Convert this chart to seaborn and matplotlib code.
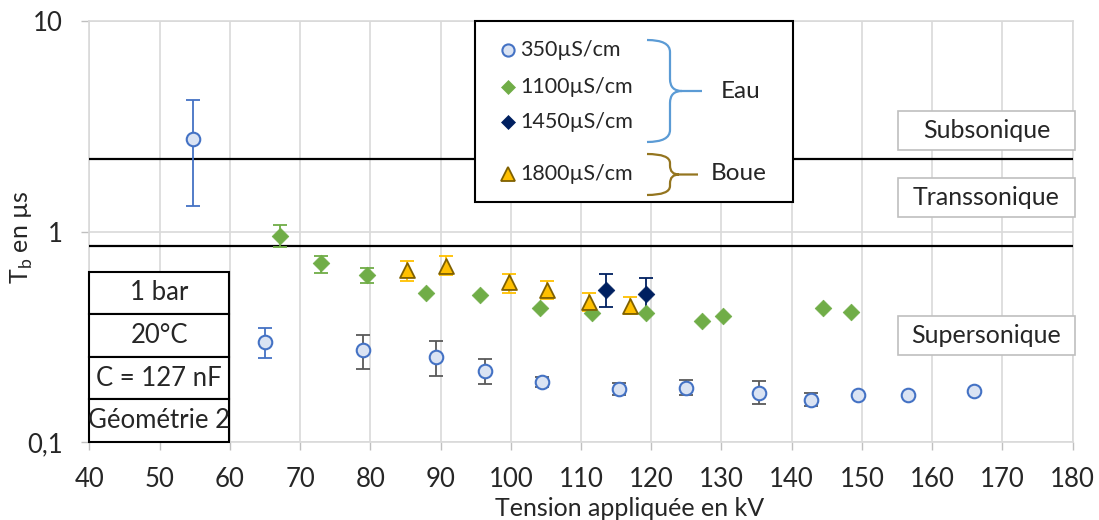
import numpy as np
import pandas as pd
import seaborn as sns
import matplotlib.pyplot as plt
import matplotlib.transforms as mtransforms
from matplotlib.path import Path
from matplotlib.patches import PathPatch, Rectangle
from matplotlib.lines import Line2D
from matplotlib.ticker import MultipleLocator, LogLocator, NullFormatter

# données (kV, Tb en µs)
x_350 = [54.8, 65.0, 78.9, 89.3, 96.3, 104.5, 115.4, 125.0, 135.4, 142.7, 149.5, 156.5, 165.9]
y_350 = [2.75, 0.300, 0.274, 0.254, 0.218, 0.193, 0.178, 0.181, 0.170, 0.158, 0.168, 0.168, 0.174]
lo_350 = [1.32, 0.252, 0.223, 0.206, 0.188, 0.182, 0.167, 0.168, 0.151, 0.148, np.nan, np.nan, np.nan]
hi_350 = [4.22, 0.347, 0.321, 0.303, 0.247, 0.204, 0.191, 0.198, 0.195, 0.171, np.nan, np.nan, np.nan]

x_1100 = [67.2, 73.0, 79.5, 87.9, 95.6, 104.2, 111.6, 119.3, 127.2, 130.2, 144.5, 148.5]
y_1100 = [0.95, 0.708, 0.620, 0.508, 0.497, 0.434, 0.410, 0.410, 0.374, 0.396, 0.434, 0.413]
lo_1100 = [0.841, 0.638, 0.567] + [np.nan] * 9
hi_1100 = [1.077, 0.761, 0.674] + [np.nan] * 9

x_1450 = [113.5, 119.2]
y_1450 = [0.525, 0.506]
lo_1450 = [0.437, 0.406]
hi_1450 = [0.631, 0.604]

x_1800 = [85.2, 90.8, 99.8, 105.2, 111.2, 117.0]
y_1800 = [0.657, 0.687, 0.575, 0.525, 0.463, 0.445]
lo_1800 = [0.582, 0.620, 0.512, 0.476, 0.418, 0.406]
hi_1800 = [0.726, 0.761, 0.631, 0.582, 0.512, 0.490]

seuils = [2.22, 0.85]  # limites subsonique / transsonique / supersonique
legend_labels = ['350µS/cm', '1100µS/cm', '1450µS/cm', '1800µS/cm']
conditions = ['1 bar', '20°C', 'C = 127 nF', 'Géométrie 2']

sns.set_theme(style="white")
plt.rcParams['font.family'] = ['Lato', 'DejaVu Sans']
plt.rcParams['mathtext.fontset'] = 'custom'
plt.rcParams['mathtext.rm'] = 'Lato'

W, H = 1099, 520
fig = plt.figure(figsize=(W / 100, H / 100), dpi=100)
ax = fig.add_axes([89.3 / W, 1 - 442 / H, 983.4 / W, 421 / H])
px = mtransforms.Affine2D().scale(1 / W, -1 / H).translate(0, 1) + fig.transFigure

ax.set_yscale('log')
ax.set_xlim(40, 180)
ax.set_ylim(0.1, 10)
ax.xaxis.set_major_locator(MultipleLocator(10))
ax.xaxis.set_minor_locator(MultipleLocator(2))
ax.yaxis.set_minor_locator(LogLocator(subs=np.arange(2, 10)))
ax.yaxis.set_minor_formatter(NullFormatter())
ax.set_yticks([0.1, 1, 10], ['0,1', '1', '10'])
ax.grid(True, which='major', color='#D9D9D9', lw=1.2)
for s in ax.spines.values():
    s.set_color('#D9D9D9')
    s.set_linewidth(1.2)
ax.tick_params(axis='both', which='both', direction='out', color='#BFBFBF', length=6, width=1, labelsize=18.5)
ax.tick_params(axis='x', pad=12)
ax.tick_params(axis='y', pad=13)
ax.tick_params(bottom=True, left=True)

# limites de régime
for s in seuils:
    ax.plot([40, 180], [s, s], color='black', lw=1.6, zorder=3)


def barres(x, y, lo, hi, couleur):
    df = pd.DataFrame({'x': x, 'y': y, 'lo': lo, 'hi': hi}).dropna()
    ax.errorbar(df['x'], df['y'], yerr=[df['y'] - df['lo'], df['hi'] - df['y']], fmt='none',
                ecolor=couleur, elinewidth=1.3, capsize=5, capthick=1.3, zorder=4)


# barres d'erreur (les deux premiers points à 350µS/cm en bleu, le reste en gris)
barres(x_350[:2], y_350[:2], lo_350[:2], hi_350[:2], '#4472C4')
barres(x_350[2:], y_350[2:], lo_350[2:], hi_350[2:], '#595959')
barres(x_1100, y_1100, lo_1100, hi_1100, '#70AD47')
barres(x_1450, y_1450, lo_1450, hi_1450, '#002060')
barres(x_1800, y_1800, lo_1800, hi_1800, '#FFC000')

styles = [
    dict(marker='o', s=95, color='#DAE3F3', edgecolor='#4472C4', linewidth=1.5),
    dict(marker='D', s=72, color='#70AD47', edgecolor='#70AD47', linewidth=0.5),
    dict(marker='D', s=72, color='#002060', edgecolor='#002060', linewidth=0.5),
    dict(marker='^', s=115, color='#FFC000', edgecolor='#7F6000', linewidth=1.3),
]
series = [(x_350, y_350), (x_1100, y_1100), (x_1450, y_1450), (x_1800, y_1800)]
for (xs, ys), st in zip(series, styles):
    sns.scatterplot(x=xs, y=ys, ax=ax, zorder=5, legend=False, **st)

# légende manuelle
fig.add_artist(Rectangle((475, 21), 318, 181, transform=px, facecolor='white', edgecolor='black', lw=1.5))
leg_y = [50, 87, 122, 174]
for lab, yy, st in zip(legend_labels, leg_y, styles):
    size = np.sqrt(st['s']) * 0.9
    fig.add_artist(Line2D([508], [yy], transform=px, marker=st['marker'], markersize=size,
                          markerfacecolor=st['color'], markeredgecolor=st['edgecolor'],
                          markeredgewidth=st['linewidth'], linestyle='none'))
    fig.text(520 / W, 1 - yy / H, lab, fontsize=15.5, va='center', ha='left')


def accolade(x0, xm, xt, y0, y1, r, couleur):
    ym = (y0 + y1) / 2
    verts = [(x0, y0), (xm, y0), (xm, y0 + r), (xm, ym - r), (xm, ym), (xm + r, ym), (xt, ym),
             (xm + r, ym), (xm, ym), (xm, ym + r), (xm, y1 - r), (xm, y1), (x0, y1)]
    codes = [Path.MOVETO, Path.CURVE3, Path.CURVE3, Path.LINETO, Path.CURVE3, Path.CURVE3, Path.LINETO,
             Path.MOVETO, Path.CURVE3, Path.CURVE3, Path.LINETO, Path.CURVE3, Path.CURVE3]
    fig.add_artist(PathPatch(Path(verts, codes), transform=px, fill=False, edgecolor=couleur, lw=1.6))


accolade(647, 670, 702, 40, 142, 12, '#5B9BD5')
accolade(647, 670, 698, 154, 195, 9, '#94751F')
fig.text(721 / W, 1 - 91 / H, 'Eau', fontsize=17.5, va='center', ha='left')
fig.text(711 / W, 1 - 174 / H, 'Boue', fontsize=17.5, va='center', ha='left')

# régimes
for lab, (y0, y1) in zip(['Subsonique', 'Transsonique', 'Supersonique'], [(111, 150), (178, 217), (316, 355)]):
    fig.add_artist(Rectangle((898, y0), 177, y1 - y0, transform=px, facecolor='white', edgecolor='#BFBFBF', lw=1.2))
    fig.text(986.5 / W, 1 - (y0 + y1) / 2 / H, lab, fontsize=18, va='center', ha='center')

# conditions expérimentales
rows = [272, 314, 357, 399, 442]
for lab, y0, y1 in zip(conditions, rows[:-1], rows[1:]):
    fig.add_artist(Rectangle((89, y0), 140, y1 - y0, transform=px, facecolor='white', edgecolor='black', lw=1.5))
    fig.text(159 / W, 1 - (y0 + y1) / 2 / H, lab, fontsize=18.5, va='center', ha='center')

fig.text(630 / W, 1 - 508 / H, 'Tension appliquée en kV', fontsize=18, va='center', ha='center')
fig.text(22 / W, 1 - 237 / H, 'T$_{\\mathrm{b}}$ en µs', fontsize=18, va='center', ha='center', rotation=90)

fig.savefig('out.png', dpi=100)
